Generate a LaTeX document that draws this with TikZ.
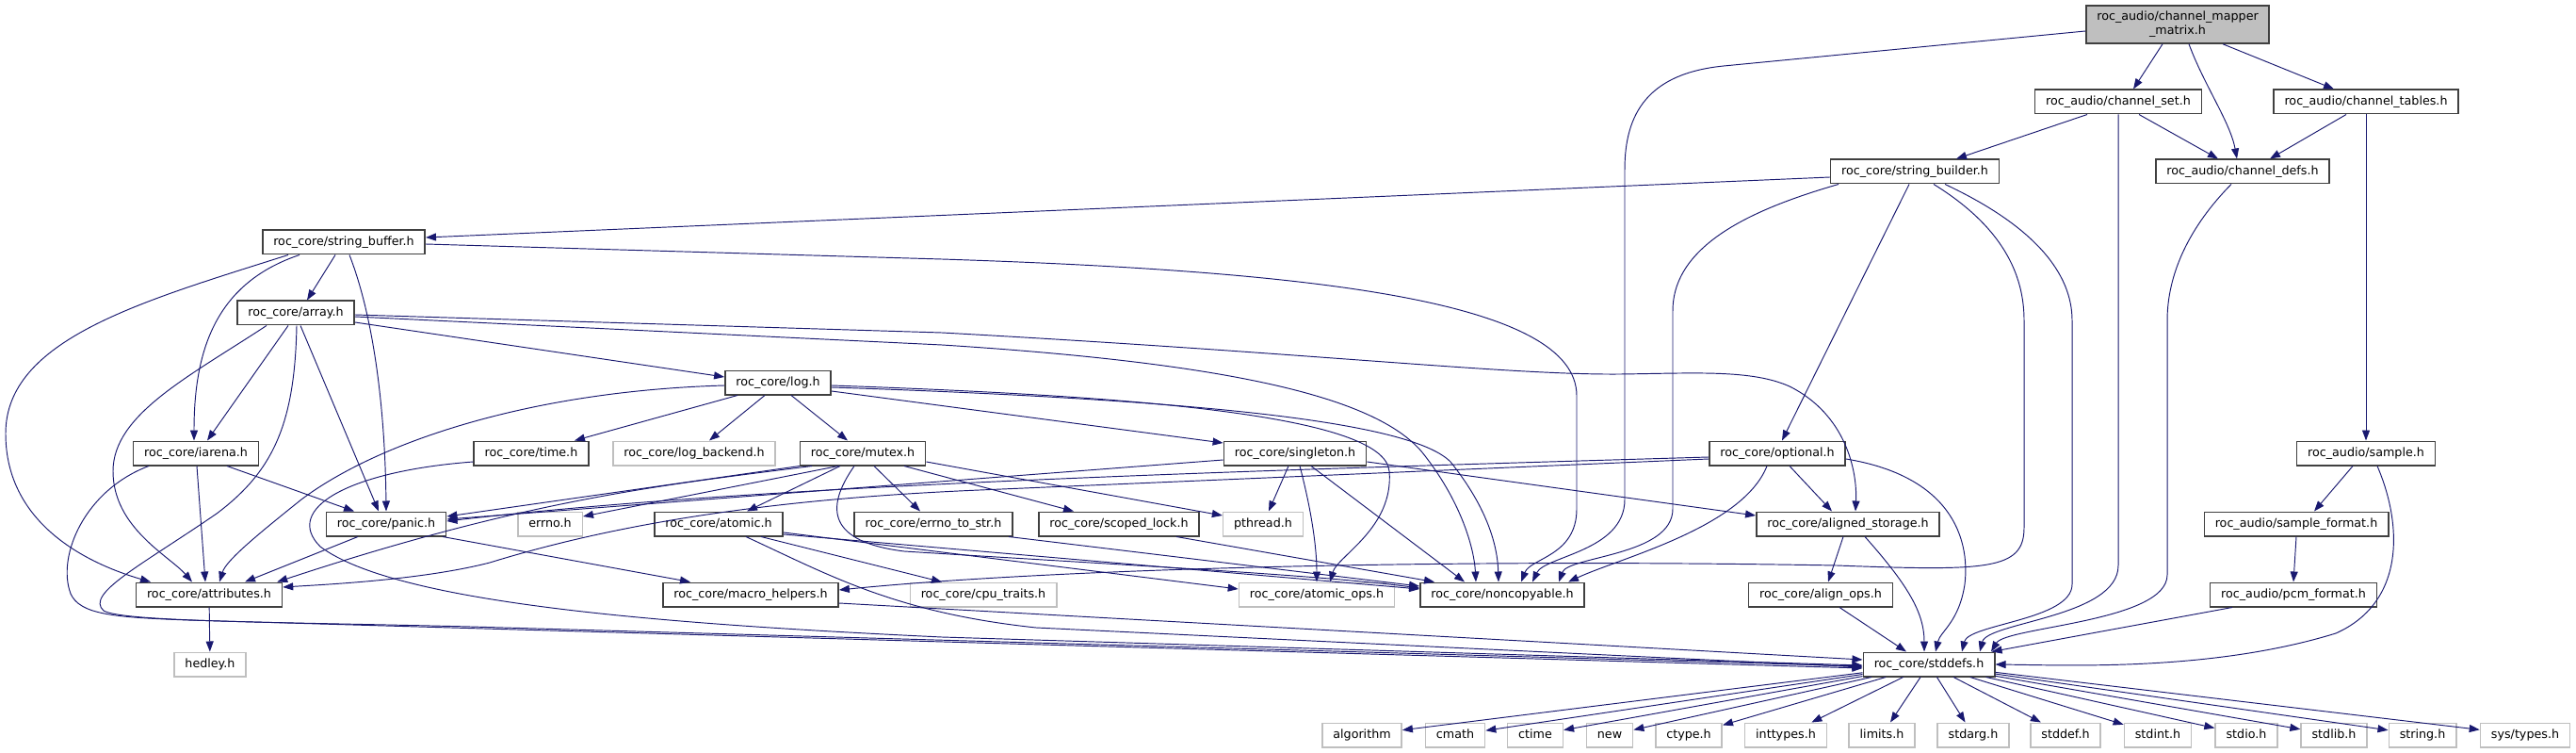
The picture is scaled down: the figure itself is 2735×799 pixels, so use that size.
\documentclass[tikz,border=0pt]{standalone}
\usepackage{fontspec}
\setmainfont{DejaVu Sans}
\usepackage{tikz}
\usetikzlibrary{arrows.meta,positioning}
\definecolor{IncBlue}{HTML}{191970}
\definecolor{HdrLine}{HTML}{404040}
\definecolor{ExtLine}{HTML}{BFBFBF}
\definecolor{RootFill}{HTML}{BFBFBF}

\tikzset{
  hdr/.style={draw=HdrLine, line width=1.5pt, fill=white, inner xsep=11.5pt, inner ysep=0pt,
    minimum height=25.5pt, text height=9.5pt, text depth=3pt,
    font=\fontsize{12.7}{15}\selectfont},
  ext/.style={hdr, draw=ExtLine},
  root/.style={draw=HdrLine, line width=1.5pt, fill=RootFill, inner xsep=11.5pt, inner ysep=0pt,
    minimum height=40pt, align=center, font=\fontsize{12.7}{15}\selectfont},
  inc/.style={draw=IncBlue, line width=0.95pt, -{Triangle[length=11pt,width=8pt]}},
}

\begin{document}
\begin{tikzpicture}[x=1pt, y=-1pt]
  \useasboundingbox (0,0) rectangle (2735,799);
  \fill[white] (0,0) rectangle (2735,799);

  % --- headers, row by row ---
  \node[root] (matrix) at (2312,26) {roc\_audio/channel\_mapper\\\_matrix.h};

  \node[hdr] (chset)    at (2249,108) {roc\_audio/channel\_set.h};
  \node[hdr] (chtables) at (2512,108) {roc\_audio/channel\_tables.h};

  \node[hdr] (strbuilder) at (2033,182) {roc\_core/string\_builder.h};
  \node[hdr] (chdefs)     at (2381,182) {roc\_audio/channel\_defs.h};

  \node[hdr] (strbuffer) at (365,257) {roc\_core/string\_buffer.h};
  \node[hdr] (array)     at (314,332) {roc\_core/array.h};
  \node[hdr] (log)       at (826,406) {roc\_core/log.h};

  \node[hdr] (iarena)     at (208,481)  {roc\_core/iarena.h};
  \node[hdr] (time)       at (564,481)  {roc\_core/time.h};
  \node[ext] (logbackend) at (737,481)  {roc\_core/log\_backend.h};
  \node[hdr] (mutex)      at (916,481)  {roc\_core/mutex.h};
  \node[hdr] (singleton)  at (1375,481) {roc\_core/singleton.h};
  \node[hdr] (optional)   at (1887,481) {roc\_core/optional.h};
  \node[hdr] (sample)     at (2512,481) {roc\_audio/sample.h};

  \node[hdr] (panic)          at (410,556)  {roc\_core/panic.h};
  \node[ext] (errno)          at (584,556)  {errno.h};
  \node[hdr] (atomic)         at (763,556)  {roc\_core/atomic.h};
  \node[hdr] (errnotostr)     at (991,556)  {roc\_core/errno\_to\_str.h};
  \node[hdr] (scopedlock)     at (1188,556) {roc\_core/scoped\_lock.h};
  \node[ext] (pthread)        at (1341,556) {pthread.h};
  \node[hdr] (alignedstorage) at (1962,556) {roc\_core/aligned\_storage.h};
  \node[hdr] (sampleformat)   at (2438,556) {roc\_audio/sample\_format.h};

  \node[hdr] (attributes)   at (222,631)  {roc\_core/attributes.h};
  \node[hdr] (macrohelpers) at (797,631)  {roc\_core/macro\_helpers.h};
  \node[ext] (cputraits)    at (1044,631) {roc\_core/cpu\_traits.h};
  \node[ext] (atomicops)    at (1398,631) {roc\_core/atomic\_ops.h};
  \node[hdr] (noncopyable)  at (1595,631) {roc\_core/noncopyable.h};
  \node[hdr] (alignops)     at (1933,631) {roc\_core/align\_ops.h};
  \node[hdr] (pcmformat)    at (2435,631) {roc\_audio/pcm\_format.h};

  \node[ext] (hedley)  at (223,705)  {hedley.h};
  \node[hdr] (stddefs) at (2048,705) {roc\_core/stddefs.h};

  \foreach \id/\txt/\xpos in {algorithm/algorithm/1446, cmath/cmath/1545, ctime/ctime/1630,
      new/new/1709, ctype/ctype.h/1793, inttypes/inttypes.h/1896, limits/limits.h/1998,
      stdarg/stdarg.h/2095, stddef/stddef.h/2193, stdint/stdint.h/2291, stdio/stdio.h/2385,
      stdlib/stdlib.h/2478, string/string.h/2572, systypes/{sys/types.h}/2681}
    \node[ext] (\id) at (\xpos,780) {\txt};

  % --- channel_mapper_matrix.h ---
  \draw[inc] ([xshift=-16pt]matrix.south) -- ([xshift=16pt]chset.north);
  \draw[inc] ([xshift=12pt]matrix.south) .. controls (2340,90) and (2368,130) .. ([xshift=-6pt]chdefs.north);
  \draw[inc] ([xshift=48pt]matrix.south) -- ([xshift=-34pt]chtables.north);
  \draw[inc] ([yshift=-7pt]matrix.west) -- (1830,70) .. controls (1750,78) and (1725,120) .. (1725,180)
    -- (1725,530) .. controls (1725,585) and (1640,590) .. ([xshift=32pt]noncopyable.north);

  % --- channel_set.h / channel_tables.h / channel_defs.h ---
  \draw[inc] ([xshift=-33pt]chset.south) -- ([xshift=44pt]strbuilder.north);
  \draw[inc] ([xshift=22pt]chset.south) -- ([xshift=-26pt]chdefs.north);
  \draw[inc] (chset.south) -- (2249,600) .. controls (2249,655) and (2110,660) .. ([xshift=54pt]stddefs.north);
  \draw[inc] ([xshift=-21pt]chtables.south) -- ([xshift=29pt]chdefs.north);
  \draw[inc] (chtables.south) -- (sample.north);
  \draw[inc] ([xshift=-12pt]chdefs.south) .. controls (2325,240) and (2301,290) .. (2301,340)
    -- (2301,610) .. controls (2301,660) and (2130,665) .. ([xshift=66pt]stddefs.north);

  % --- string_builder.h ---
  \draw[inc] ([yshift=-6pt]strbuilder.west) -- ([yshift=5pt]strbuffer.east);
  \draw[inc] ([xshift=-81pt]strbuilder.south) .. controls (1860,222) and (1776,260) .. (1776,330)
    -- (1776,540) .. controls (1776,590) and (1665,590) .. ([xshift=60pt]noncopyable.north);
  \draw[inc] ([xshift=-6pt]strbuilder.south) -- ([xshift=5pt]optional.north);
  \draw[inc] ([xshift=20pt]strbuilder.south) .. controls (2125,240) and (2149,290) .. (2149,340)
    -- (2149,560) .. controls (2149,605) and (2110,606) .. (1950,600)
    .. controls (1500,592) and (1100,605) .. ([yshift=5pt]macrohelpers.east);
  \draw[inc] ([xshift=32pt]strbuilder.south) .. controls (2160,240) and (2200,290) .. (2200,340)
    -- (2200,620) .. controls (2200,658) and (2090,662) .. ([xshift=35pt]stddefs.north);

  % --- string_buffer.h ---
  \draw[inc] ([xshift=-9pt]strbuffer.south) -- ([xshift=12pt]array.north);
  \draw[inc] ([xshift=-47pt]strbuffer.south) .. controls (230,300) and (206,370) .. ([xshift=-2pt]iarena.north);
  \draw[inc] ([xshift=-59pt]strbuffer.south) .. controls (150,320) and (6,360) .. (6,460)
    .. controls (6,560) and (100,600) .. ([xshift=-62pt]attributes.north);
  \draw[inc] ([xshift=6pt]strbuffer.south) .. controls (398,340) and (409,440) .. (panic.north);
  \draw[inc] ([yshift=-2pt]strbuffer.east) -- (1000,275) .. controls (1400,288) and (1674,320) .. (1674,420)
    -- (1674,540) .. controls (1674,590) and (1625,592) .. ([xshift=20pt]noncopyable.north);

  % --- array.h ---
  \draw[inc] ([yshift=-10pt]array.east) -- ([yshift=6pt]log.west);
  \draw[inc] ([yshift=-2pt]array.east) -- (1000,353) .. controls (1400,375) and (1600,398) .. (1720,397)
    .. controls (1800,396) and (1860,392) .. (1900,410) .. controls (1960,440) and (1972,500) .. ([xshift=8pt]alignedstorage.north);
  \draw[inc] ([yshift=-4pt]array.east) -- (1000,366) .. controls (1300,385) and (1460,420) .. (1510,480)
    .. controls (1550,530) and (1565,580) .. ([xshift=-28pt]noncopyable.north);
  \draw[inc] ([xshift=-8pt]array.south) -- ([xshift=12pt]iarena.north);
  \draw[inc] ([xshift=-31pt]array.south) .. controls (200,400) and (120,440) .. (120,500)
    .. controls (120,560) and (180,590) .. ([xshift=-18pt]attributes.north);
  \draw[inc] ([xshift=5pt]array.south) -- ([xshift=-8pt]panic.north);
  \draw[inc] ([xshift=1pt]array.south) .. controls (313,450) and (290,500) .. (230,545)
    .. controls (150,600) and (90,630) .. (110,648) .. controls (130,660) and (300,660) .. (500,665)
    -- ([yshift=-2pt]stddefs.west);

  % --- iarena.h ---
  \draw[inc] ([xshift=1pt]iarena.south) -- ([xshift=-4pt]attributes.north);
  \draw[inc] ([xshift=33pt]iarena.south) -- ([xshift=-34pt]panic.north);
  \draw[inc] ([xshift=-50pt]iarena.south) .. controls (90,520) and (60,590) .. (75,630)
    .. controls (85,652) and (120,655) .. (200,658) -- ([yshift=-4pt]stddefs.west);

  % --- log.h ---
  \draw[inc] ([xshift=-43pt]log.south) -- ([xshift=46pt]time.north);
  \draw[inc] ([xshift=-14pt]log.south) -- ([xshift=16pt]logbackend.north);
  \draw[inc] ([xshift=14pt]log.south) -- ([xshift=-16pt]mutex.north);
  \draw[inc] ([yshift=-9pt]log.east) -- ([yshift=11pt]singleton.west);
  \draw[inc] ([yshift=-3pt]log.east) .. controls (1200,420) and (1470,440) .. (1475,500)
    .. controls (1480,560) and (1420,590) .. ([xshift=14pt]atomicops.north);
  \draw[inc] ([yshift=-5pt]log.east) .. controls (1300,425) and (1500,450) .. (1540,490)
    .. controls (1580,540) and (1590,580) .. ([xshift=-4pt]noncopyable.north);
  \draw[inc] ([yshift=-3pt]log.west) .. controls (560,415) and (400,470) .. (320,530)
    .. controls (270,570) and (240,595) .. ([xshift=11pt]attributes.north);

  % --- time.h ---
  \draw[inc] ([yshift=-9pt]time.west) .. controls (370,500) and (300,540) .. (340,580)
    .. controls (420,640) and (700,662) .. (1000,676) -- ([yshift=-1pt]stddefs.west);

  % --- mutex.h ---
  \draw[inc] ([xshift=-67pt]mutex.south) -- ([yshift=8pt]panic.east);
  \draw[inc] ([xshift=-54pt]mutex.south) .. controls (700,515) and (560,530) .. ([xshift=-6pt]attributes.north east);
  \draw[inc] ([xshift=-26pt]mutex.south) -- ([yshift=8pt]errno.east);
  \draw[inc] ([xshift=-24pt]mutex.south) -- ([xshift=30pt]atomic.north);
  \draw[inc] ([xshift=12pt]mutex.south) -- ([xshift=-14pt]errnotostr.north);
  \draw[inc] ([xshift=44pt]mutex.south) -- ([xshift=-48pt]scopedlock.north);
  \draw[inc] ([yshift=-9pt]mutex.east) -- ([yshift=9pt]pthread.west);
  \draw[inc] ([xshift=-9pt]mutex.south) .. controls (875,540) and (880,575) .. (960,585)
    .. controls (1200,600) and (1400,610) .. ([yshift=7pt]noncopyable.west);

  % --- singleton.h ---
  \draw[inc] ([yshift=-7pt]singleton.west) -- ([yshift=5pt]panic.east);
  \draw[inc] ([xshift=-7pt]singleton.south) -- ([xshift=6pt]pthread.north);
  \draw[inc] ([xshift=5pt]singleton.south) .. controls (1392,540) and (1398,580) .. (atomicops.north);
  \draw[inc] ([xshift=17pt]singleton.south) -- ([xshift=-40pt]noncopyable.north);
  \draw[inc] ([yshift=-9pt]singleton.east) -- ([yshift=9pt]alignedstorage.west);

  % --- optional.h ---
  \draw[inc] ([yshift=-4pt]optional.west) .. controls (1300,500) and (800,515) .. ([yshift=3pt]panic.east);
  \draw[inc] ([yshift=-6pt]optional.west) -- (1040,520) .. controls (800,530) and (640,560) .. (520,597)
    .. controls (450,615) and (350,620) .. ([yshift=8pt]attributes.east);
  \draw[inc] ([xshift=13pt]optional.south) -- ([xshift=-17pt]alignedstorage.north);
  \draw[inc] ([xshift=-11pt]optional.south) .. controls (1850,560) and (1720,592) .. ([xshift=70pt]noncopyable.north);
  \draw[inc] ([yshift=-6pt]optional.east) .. controls (2070,505) and (2092,570) .. (2086,620)
    .. controls (2080,660) and (2060,670) .. ([xshift=7pt]stddefs.north);

  % --- aligned_storage.h / align_ops.h ---
  \draw[inc] ([xshift=-5pt]alignedstorage.south) -- ([xshift=8pt]alignops.north);
  \draw[inc] ([xshift=18pt]alignedstorage.south) .. controls (2025,620) and (2043,650) .. ([xshift=-5pt]stddefs.north);
  \draw[inc] ([xshift=20pt]alignops.south) -- ([xshift=-24pt]stddefs.north);

  % --- sample.h chain ---
  \draw[inc] ([xshift=-14pt]sample.south) -- ([xshift=19pt]sampleformat.north);
  \draw[inc] ([xshift=12pt]sample.south) .. controls (2552,560) and (2552,640) .. (2480,672)
    .. controls (2350,712) and (2200,706) .. (stddefs.east);
  \draw[inc] (sampleformat.south) -- (pcmformat.north);
  \draw[inc] ([xshift=-65pt]pcmformat.south) -- ([xshift=-4pt]stddefs.north east);

  % --- panic.h / atomic.h / the rest ---
  \draw[inc] ([xshift=-30pt]panic.south) -- ([xshift=38pt]attributes.north);
  \draw[inc] ([xshift=60pt]panic.south) -- ([xshift=-64pt]macrohelpers.north);
  \draw[inc] ([yshift=-9pt]atomic.east) -- ([yshift=6pt]atomicops.west);
  \draw[inc] ([yshift=-11pt]atomic.east) -- ([yshift=6pt]noncopyable.west);
  \draw[inc] ([xshift=45pt]atomic.south) -- ([xshift=-44pt]cputraits.north);
  \draw[inc] ([xshift=29pt]atomic.south) .. controls (880,610) and (950,650) .. (1100,666) -- ([yshift=-3pt]stddefs.west);
  \draw[inc] ([xshift=80pt]errnotostr.south) -- ([yshift=9pt]noncopyable.west);
  \draw[inc] ([xshift=61pt]scopedlock.south) -- ([xshift=-72pt]noncopyable.north);
  \draw[inc] ([yshift=-9pt]macrohelpers.east) -- ([yshift=5pt]stddefs.west);
  \draw[inc] (attributes) -- (hedley);

  % --- stddefs.h fan-out ---
  \foreach \id in {algorithm,cmath,ctime,new,ctype,inttypes,limits,stdarg,stddef,stdint,stdio,stdlib,string,systypes}
    \draw[inc] (stddefs) -- (\id);
\end{tikzpicture}
\end{document}
